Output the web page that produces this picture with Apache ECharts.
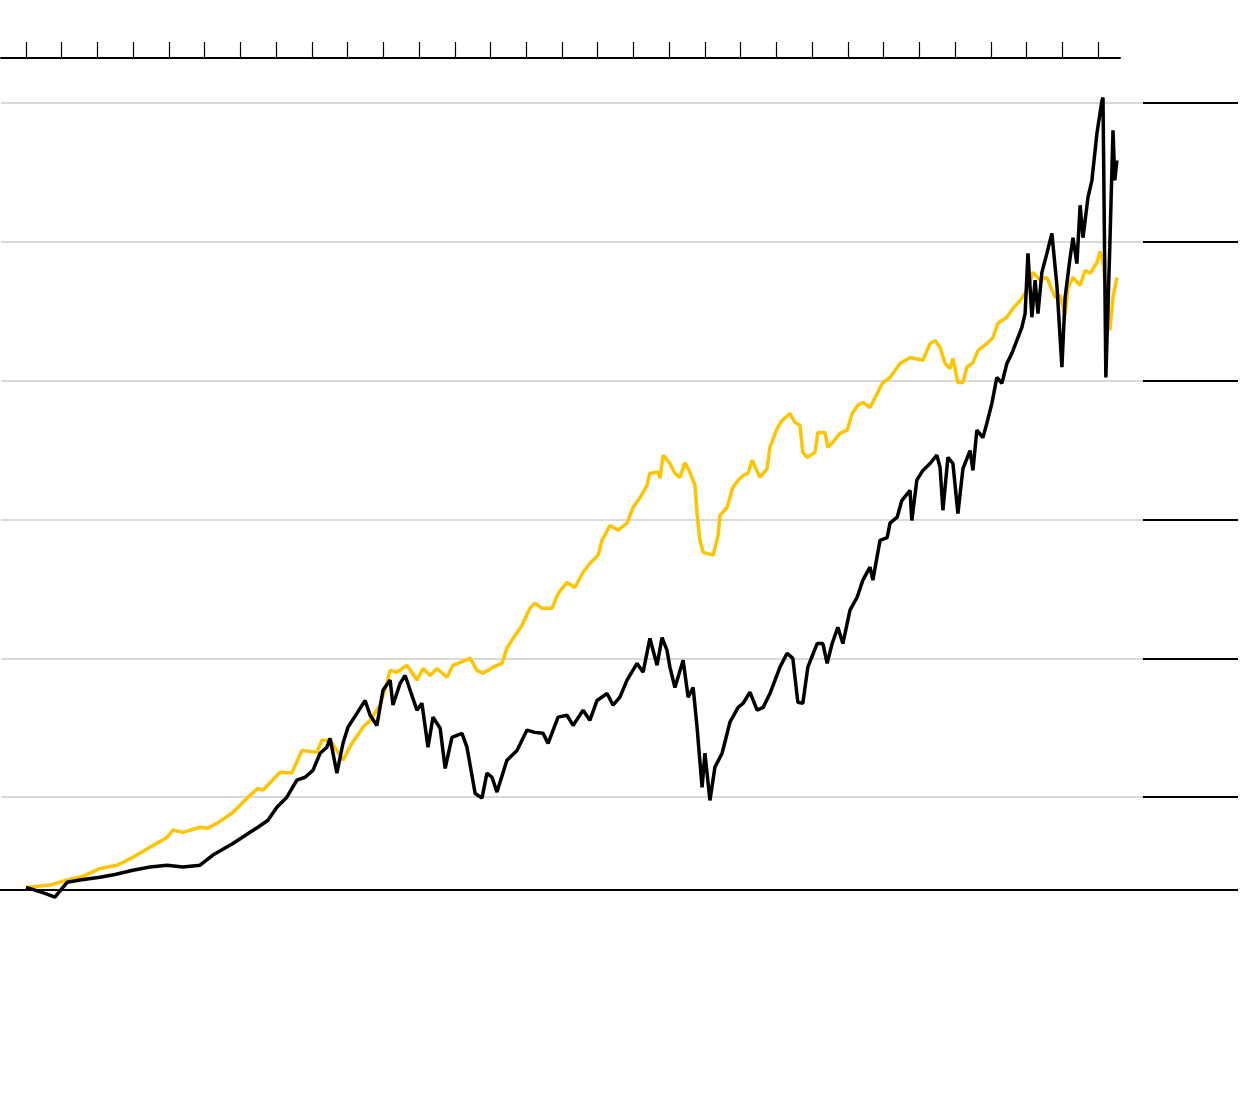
<!DOCTYPE html>
<html>
<head>
<meta charset="utf-8">
<script src="https://cdn.jsdelivr.net/npm/echarts@6/dist/echarts.min.js"></script>
<style>
html,body{margin:0;padding:0;background:#fff;}
#chart{width:1240px;height:1100px;}
</style>
</head>
<body>
<div id="chart"></div>
<script>
// Index, 1990 = 100
var BASE = 100;
var yTicks = [0, 300, 600, 900, 1200, 1500, 1800];
var yearTicks = [];
for (var yr = 1990; yr <= 2020; yr++) yearTicks.push(yr);

// Black series (stock index, total return), [year, index]
var blackYears = [1990.00,1990.25,1990.53,1990.81,1991.01,1991.15,1991.51,1992.07,1992.49,1992.99,1993.47,1993.95,1994.39,1994.87,1995.23,1995.79,1996.27,1996.49,1996.77,1997.02,1997.30,1997.58,1997.81,1998.03,1998.23,1998.42,1998.51,1998.70,1998.87,1999.01,1999.26,1999.49,1999.63,1999.82,1999.99,2000.19,2000.27,2000.47,2000.61,2000.75,2000.94,2001.08,2001.25,2001.39,2001.59,2001.73,2001.92,2002.20,2002.34,2002.57,2002.76,2002.90,2003.04,2003.18,2003.46,2003.74,2004.02,2004.24,2004.47,2004.61,2004.89,2005.14,2005.31,2005.59,2005.78,2005.98,2006.26,2006.43,2006.62,2006.82,2007.10,2007.27,2007.46,2007.66,2007.80,2007.94,2008.02,2008.16,2008.39,2008.53,2008.67,2008.78,2008.92,2009.00,2009.14,2009.28,2009.48,2009.70,2009.93,2010.07,2010.26,2010.46,2010.63,2010.82,2011.10,2011.30,2011.46,2011.60,2011.74,2011.88,2012.14,2012.30,2012.42,2012.56,2012.72,2012.86,2013.06,2013.26,2013.42,2013.62,2013.70,2013.90,2014.10,2014.18,2014.38,2014.51,2014.74,2014.79,2014.93,2015.10,2015.30,2015.49,2015.58,2015.66,2015.80,2015.94,2016.08,2016.22,2016.42,2016.50,2016.61,2016.78,2016.89,2017.03,2017.17,2017.31,2017.45,2017.59,2017.73,2017.87,2017.96,2018.04,2018.15,2018.24,2018.32,2018.43,2018.57,2018.71,2018.85,2018.99,2019.08,2019.22,2019.30,2019.41,2019.50,2019.58,2019.72,2019.83,2019.97,2020.11,2020.14,2020.22,2020.33,2020.42,2020.47,2020.53];
var blackValues = [105,99,92,84,103,116,121,127,133,142,149,153,149,153,175,200,224,235,250,278,300,337,343,358,395,408,427,352,416,451,481,509,477,455,531,553,499,546,563,531,488,503,408,473,449,362,429,438,408,308,298,352,343,311,380,401,445,440,438,416,473,477,455,488,466,509,524,499,516,553,589,570,643,585,645,617,581,537,596,516,537,451,321,395,293,365,395,462,494,503,527,488,494,524,581,611,600,505,503,581,632,632,589,632,667,632,704,732,769,797,769,855,861,892,905,941,963,898,985,1006,1021,1039,1013,920,1034,1021,913,1010,1049,1006,1093,1077,1108,1151,1207,1194,1237,1259,1287,1315,1345,1475,1337,1417,1345,1434,1475,1518,1406,1229,1380,1466,1509,1453,1579,1509,1596,1633,1734,1805,1812,1207,1488,1741,1633,1676];

// Yellow series, [year, index]
var yellowYears = [1990.00,1990.67,1991.15,1991.60,1992.07,1992.55,1992.99,1993.47,1993.95,1994.11,1994.39,1994.87,1995.09,1995.35,1995.79,1996.27,1996.49,1996.63,1997.11,1997.44,1997.72,1998.14,1998.28,1998.51,1998.70,1998.87,1999.12,1999.43,1999.63,1999.91,2000.10,2000.19,2000.38,2000.66,2000.94,2001.11,2001.31,2001.50,2001.78,2001.95,2002.43,2002.62,2002.79,2003.07,2003.32,2003.46,2003.63,2003.88,2004.10,2004.24,2004.44,2004.72,2004.89,2005.14,2005.36,2005.59,2005.78,2006.01,2006.12,2006.34,2006.57,2006.82,2006.99,2007.19,2007.38,2007.46,2007.69,2007.74,2007.83,2008.02,2008.16,2008.30,2008.44,2008.58,2008.72,2008.78,2008.86,2008.95,2009.23,2009.37,2009.42,2009.62,2009.78,2009.93,2010.07,2010.21,2010.32,2010.54,2010.74,2010.82,2011.02,2011.16,2011.38,2011.52,2011.66,2011.74,2011.86,2012.08,2012.16,2012.36,2012.44,2012.58,2012.78,2012.98,2013.12,2013.28,2013.42,2013.62,2013.82,2013.96,2014.18,2014.46,2014.74,2015.10,2015.30,2015.44,2015.58,2015.72,2015.86,2015.94,2016.08,2016.22,2016.33,2016.50,2016.64,2016.89,2017.06,2017.20,2017.45,2017.62,2017.82,2018.01,2018.18,2018.38,2018.57,2018.80,2018.94,2019.08,2019.16,2019.30,2019.50,2019.64,2019.78,2019.97,2020.06,2020.14,2020.25,2020.33,2020.42,2020.53];
var yellowValues = [105,110,121,129,146,153,170,192,213,229,224,235,233,244,267,304,319,315,354,352,401,397,423,423,401,380,416,451,466,499,546,574,570,585,553,578,563,578,559,585,600,574,568,581,589,622,643,671,708,719,708,708,740,764,753,786,805,823,855,887,877,892,926,948,974,1000,1002,989,1039,1021,1000,991,1023,1002,974,913,855,829,823,866,909,926,969,985,995,1000,1028,991,1010,1056,1097,1114,1129,1110,1103,1045,1034,1045,1088,1088,1056,1067,1086,1093,1129,1147,1153,1142,1172,1194,1207,1237,1250,1244,1280,1287,1272,1237,1226,1248,1196,1196,1229,1239,1265,1280,1293,1324,1337,1356,1373,1395,1434,1417,1423,1380,1384,1341,1401,1423,1406,1438,1432,1455,1479,1455,1380,1309,1380,1423];

function pairs(xs, ys) {
  var out = [];
  for (var i = 0; i < xs.length; i++) out.push([xs[i], ys[i]]);
  return out;
}

var chart = echarts.init(document.getElementById('chart'), null, {renderer: 'canvas'});
var yCommon = {
  type: 'value', min: yTicks[0], max: yTicks[yTicks.length - 1], interval: 300,
  axisLine: {show: false}, axisTick: {show: false}, axisLabel: {show: false}
};
var hiddenX = {type: 'value', min: 0, max: 1, show: false};

chart.setOption({
  animation: false,
  backgroundColor: '#fff',
  grid: [
    {left: 1, top: 103, width: 1119, height: 833},
    {left: 1, top: 103, width: 1142, height: 833},
    {left: 1143, top: 103, width: 95, height: 833},
    {left: 0, top: 103, width: 1238, height: 833}
  ],
  xAxis: [
    {
      gridIndex: 0, type: 'value', min: 1989.30, max: 2020.616,
      position: 'top', offset: 45,
      axisLine: {show: true, onZero: false, lineStyle: {color: '#000', width: 2}},
      axisTick: {show: true, customValues: yearTicks, length: 16, inside: false, lineStyle: {color: '#000', width: 1.2}},
      axisLabel: {show: false},
      splitLine: {show: false}
    },
    Object.assign({gridIndex: 1}, hiddenX),
    Object.assign({gridIndex: 2}, hiddenX),
    Object.assign({gridIndex: 3}, hiddenX)
  ],
  yAxis: [
    Object.assign({gridIndex: 0, splitLine: {show: false}}, yCommon),
    Object.assign({gridIndex: 1, splitLine: {show: true, showMinLine: false, lineStyle: {color: '#cccccc', width: 1.5}}}, yCommon),
    Object.assign({gridIndex: 2, splitLine: {show: true, showMinLine: false, lineStyle: {color: '#000', width: 2}}}, yCommon),
    Object.assign({gridIndex: 3, splitLine: {show: false}}, yCommon)
  ],
  series: [
    {
      type: 'line', xAxisIndex: 3, yAxisIndex: 3, data: [], silent: true,
      markLine: {
        silent: true, symbol: ['none', 'none'], label: {show: false},
        lineStyle: {color: '#000', width: 2, type: 'solid'},
        data: [{yAxis: BASE}]
      }
    },
    {
      name: 'yellow', type: 'line', xAxisIndex: 0, yAxisIndex: 0,
      data: pairs(yellowYears, yellowValues), showSymbol: false, clip: false,
      lineStyle: {color: '#ffc400', width: 3.5}, z: 3
    },
    {
      name: 'black', type: 'line', xAxisIndex: 0, yAxisIndex: 0,
      data: pairs(blackYears, blackValues), showSymbol: false, clip: false,
      lineStyle: {color: '#000', width: 3.5}, z: 4
    }
  ]
});
</script>
</body>
</html>
